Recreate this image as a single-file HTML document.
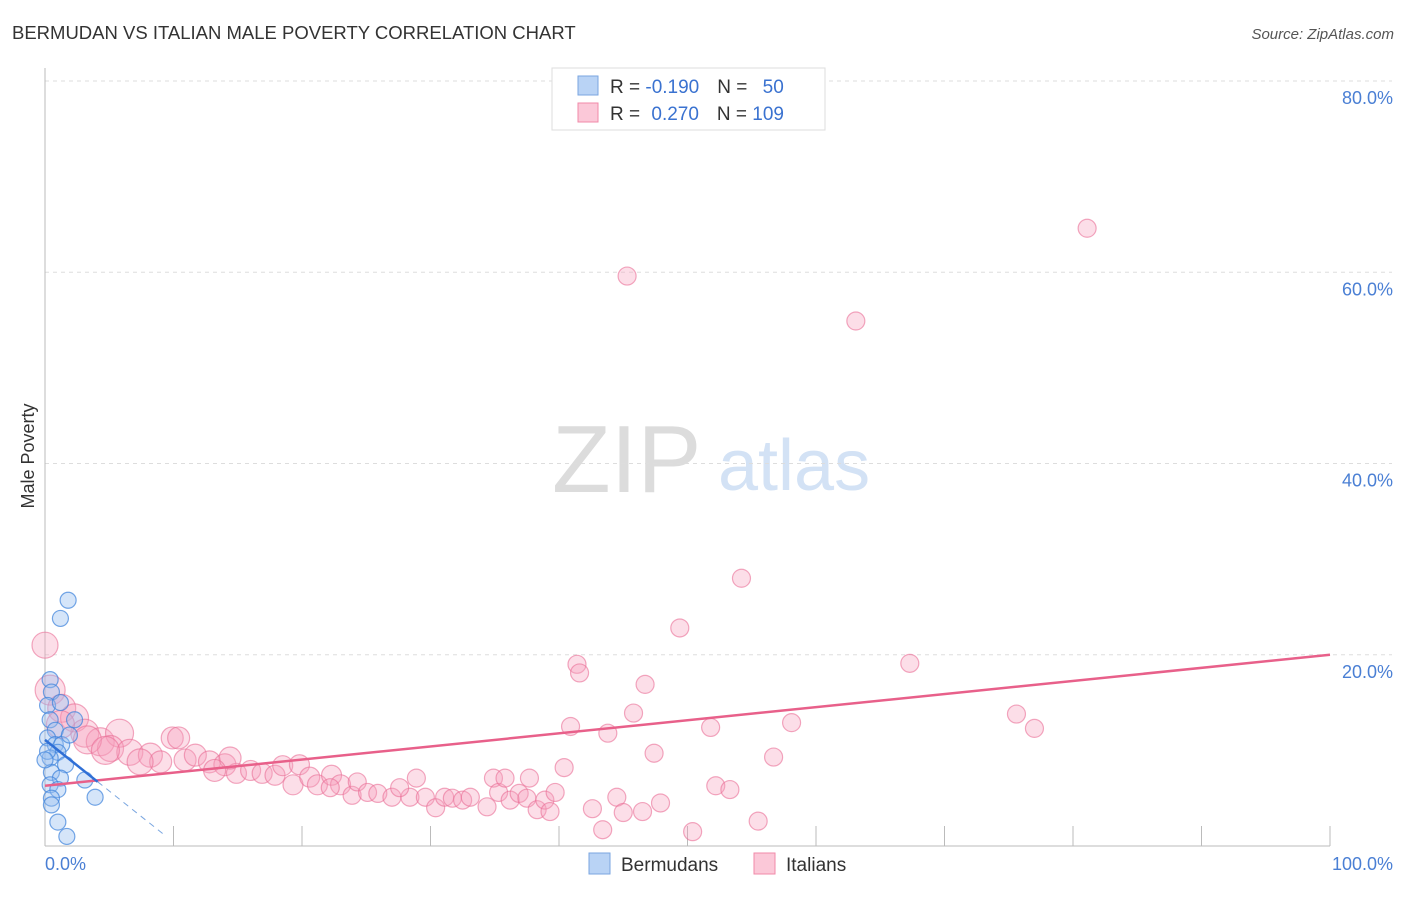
<!DOCTYPE html>
<html><head><meta charset="utf-8"><style>
body{margin:0;background:#fff;font-family:"Liberation Sans",sans-serif;}
svg text{font-family:"Liberation Sans",sans-serif;}
</style></head><body>
<svg id="chart" width="1406" height="892" viewBox="0 0 1406 892">
<text x="12" y="39" font-size="18.5" fill="#333">BERMUDAN VS ITALIAN MALE POVERTY CORRELATION CHART</text>
<text x="1394" y="39" font-size="15" fill="#555" text-anchor="end" font-style="italic">Source: ZipAtlas.com</text>
<g>
<text x="552" y="492" font-size="96" fill="#dcdcdc" font-family="Liberation Serif">ZIP</text>
<text x="718" y="490" font-size="72" fill="#d3e2f5">atlas</text>
</g>
<g id="grid"></g>
<g id="axes"></g>
<g id="pts"></g>
<g id="trend"></g>
<text x="34" y="456" font-size="18" fill="#333" text-anchor="middle" transform="rotate(-90 34 456)">Male Poverty</text>
<text x="45" y="870" font-size="18" fill="#4a7fd4">0.0%</text>
<text x="1393" y="870" font-size="18" fill="#4a7fd4" text-anchor="end">100.0%</text>
<g>
<rect x="552" y="68" width="273" height="62" fill="#fff" stroke="#ddd"/>
<rect x="578" y="76" width="20" height="19" fill="#b9d3f5" stroke="#7aa6e0"/>
<rect x="578" y="103" width="20" height="19" fill="#fbc8d8" stroke="#f08aa8"/>
<text x="610" y="93" font-size="19" fill="#333">R = <tspan fill="#3a72d0">-0.190</tspan><tspan dx="18">N = </tspan><tspan dx="10" fill="#3a72d0">50</tspan></text>
<text x="610" y="120" font-size="19" fill="#333">R = <tspan dx="6" fill="#3a72d0">0.270</tspan><tspan dx="18">N = </tspan><tspan fill="#3a72d0">109</tspan></text>
</g>
<g>
<rect x="589" y="853" width="21" height="21" fill="#b9d3f5" stroke="#7aa6e0"/>
<text x="621" y="871" font-size="19" fill="#333">Bermudans</text>
<rect x="754" y="853" width="21" height="21" fill="#fbc8d8" stroke="#f08aa8"/>
<text x="786" y="871" font-size="19" fill="#333">Italians</text>
</g>
</svg>
<script>
const yTicks=[20,40,60,80];
const yTickLabels=["20.0%","40.0%","60.0%","80.0%"];
const xTicks=[0,10,20,30,40,50,60,70,80,90,100];
const italiansX=[81.1,45.3,63.1,54.2,49.4,41.4,41.6,67.3,46.7,45.8,40.9,43.8,51.8,58.1,75.6,77.0,47.4,56.7,40.4,52.2,53.3,47.9,44.5,42.6,45.0,46.5,43.4,50.4,55.5,0,0.4,1.3,2.3,3.1,4.3,5.8,5.1,6.6,8.2,9.9,10.4,9.0,10.9,11.7,12.8,14.0,14.9,16.0,16.9,17.9,18.5,19.3,19.8,20.6,21.2,22.3,23.0,23.9,24.3,25.1,25.9,27.0,28.4,28.9,29.6,30.4,31.1,31.7,32.5,33.1,34.4,34.9,35.3,35.8,36.2,36.9,37.5,37.7,38.3,38.9,39.7,39.3,3.3,4.7,7.4,14.4,13.2,22.2,27.6,1.2];
const italiansY=[64.6,59.6,54.9,28.0,22.8,19.0,18.1,19.1,16.9,13.9,12.5,11.8,12.4,12.9,13.8,12.3,9.7,9.3,8.2,6.3,5.9,4.5,5.1,3.9,3.5,3.6,1.7,1.5,2.6,21.0,16.3,14.4,13.4,11.8,10.9,11.8,10.2,9.8,9.5,11.3,11.3,8.8,9.0,9.5,8.8,8.5,7.6,7.9,7.6,7.4,8.4,6.4,8.5,7.2,6.4,7.4,6.4,5.3,6.7,5.6,5.5,5.1,5.1,7.1,5.1,4.0,5.1,5.0,4.8,5.1,4.1,7.1,5.6,7.1,4.8,5.5,5.0,7.1,3.8,4.8,5.6,3.6,11.1,10.0,8.8,9.2,7.9,6.1,6.1,12.7];
const italiansR=[9,9,9,9,9,9,9,9,9,9,9,9,9,9,9,9,9,9,9,9,9,9,9,9,9,9,9,9,9,13,15,14,14,14,14,14,13,13,12,11,11,11,11,11,11,11,10,10,10,10,10,10,10,10,10,10,10,9,9,9,9,9,9,9,9,9,9,9,9,9,9,9,9,9,9,9,9,9,9,9,9,9,14,14,13,11,11,9,9,14];
const bermX=[1.8,1.2,0.4,0.5,0.2,1.2,2.3,0.4,0.8,0.2,0.8,1.3,1.0,0.4,1.6,0.5,1.2,0.4,1.0,0.5,0.5,3.1,3.9,1.0,1.7,0.2,1.9,0];
const bermY=[25.7,23.8,17.4,16.1,14.7,15.0,13.2,13.2,12.1,11.3,10.6,10.6,9.8,9.2,8.5,7.7,7.1,6.4,5.9,5.0,4.3,6.9,5.1,2.5,1.0,9.9,11.6,9.0];
const pinkTrend=[6.3,20.0];
const blueTrend=[11.1,-1.07];
const X0=45,X1=1330,Y0=846,Y80=81;
const sx=v=>X0+v*(X1-X0)/100;
const sy=v=>Y0-v*(Y0-Y80)/80;
const NS="http://www.w3.org/2000/svg";
function mk(tag,attrs,parent){const e=document.createElementNS(NS,tag);for(const k in attrs)e.setAttribute(k,attrs[k]);document.getElementById(parent).appendChild(e);return e;}
yTicks.forEach((t,i)=>{
 const l=mk('line',{x1:45,x2:1392,y1:sy(t),y2:sy(t),stroke:'#ddd','stroke-dasharray':'4,4'},'grid');
 
 
 const tx=mk('text',{x:1393,y:sy(t)+23,'font-size':18,fill:'#4a7fd4','text-anchor':'end'},'grid');
 tx.textContent=yTickLabels[i];
 
 
});
const ya=mk('line',{x1:45,x2:45,y1:68,y2:846,stroke:'#bbb'},'axes');


const xa=mk('line',{x1:45,x2:1330,y1:846,y2:846,stroke:'#bbb'},'axes');


xTicks.forEach(t=>{
 const l=mk('line',{x1:sx(t),x2:sx(t),y1:826,y2:846,stroke:'#bbb'},'axes');
 
 
});
italiansX.forEach((v,i)=>{
 const c=mk('circle',{cx:sx(v),cy:sy(italiansY[i]),r:italiansR[i],fill:'rgba(246,160,188,0.35)',stroke:'rgba(234,110,150,0.6)','stroke-width':1.2},'pts');
 
 
});
bermX.forEach((v,i)=>{
 const c=mk('circle',{cx:sx(v),cy:sy(bermY[i]),r:8,fill:'rgba(150,190,240,0.4)',stroke:'rgba(60,130,220,0.7)','stroke-width':1.2},'pts');
 
 
});
const pt=mk('line',{x1:sx(0),y1:sy(pinkTrend[0]),x2:sx(100),y2:sy(pinkTrend[1]),stroke:'#e8608a','stroke-width':2.5},'trend');


const bx=4.1,bx2=9.2;
const bt=mk('line',{x1:sx(0),y1:sy(blueTrend[0]),x2:sx(bx),y2:sy(blueTrend[0]+blueTrend[1]*bx),stroke:'#2f6fd6','stroke-width':2.5},'trend');


const bd=mk('line',{x1:sx(bx),y1:sy(blueTrend[0]+blueTrend[1]*bx),x2:sx(bx2),y2:sy(blueTrend[0]+blueTrend[1]*bx2),stroke:'#7aa6e0','stroke-width':1,'stroke-dasharray':'6,5'},'trend');


</script>
</body></html>
